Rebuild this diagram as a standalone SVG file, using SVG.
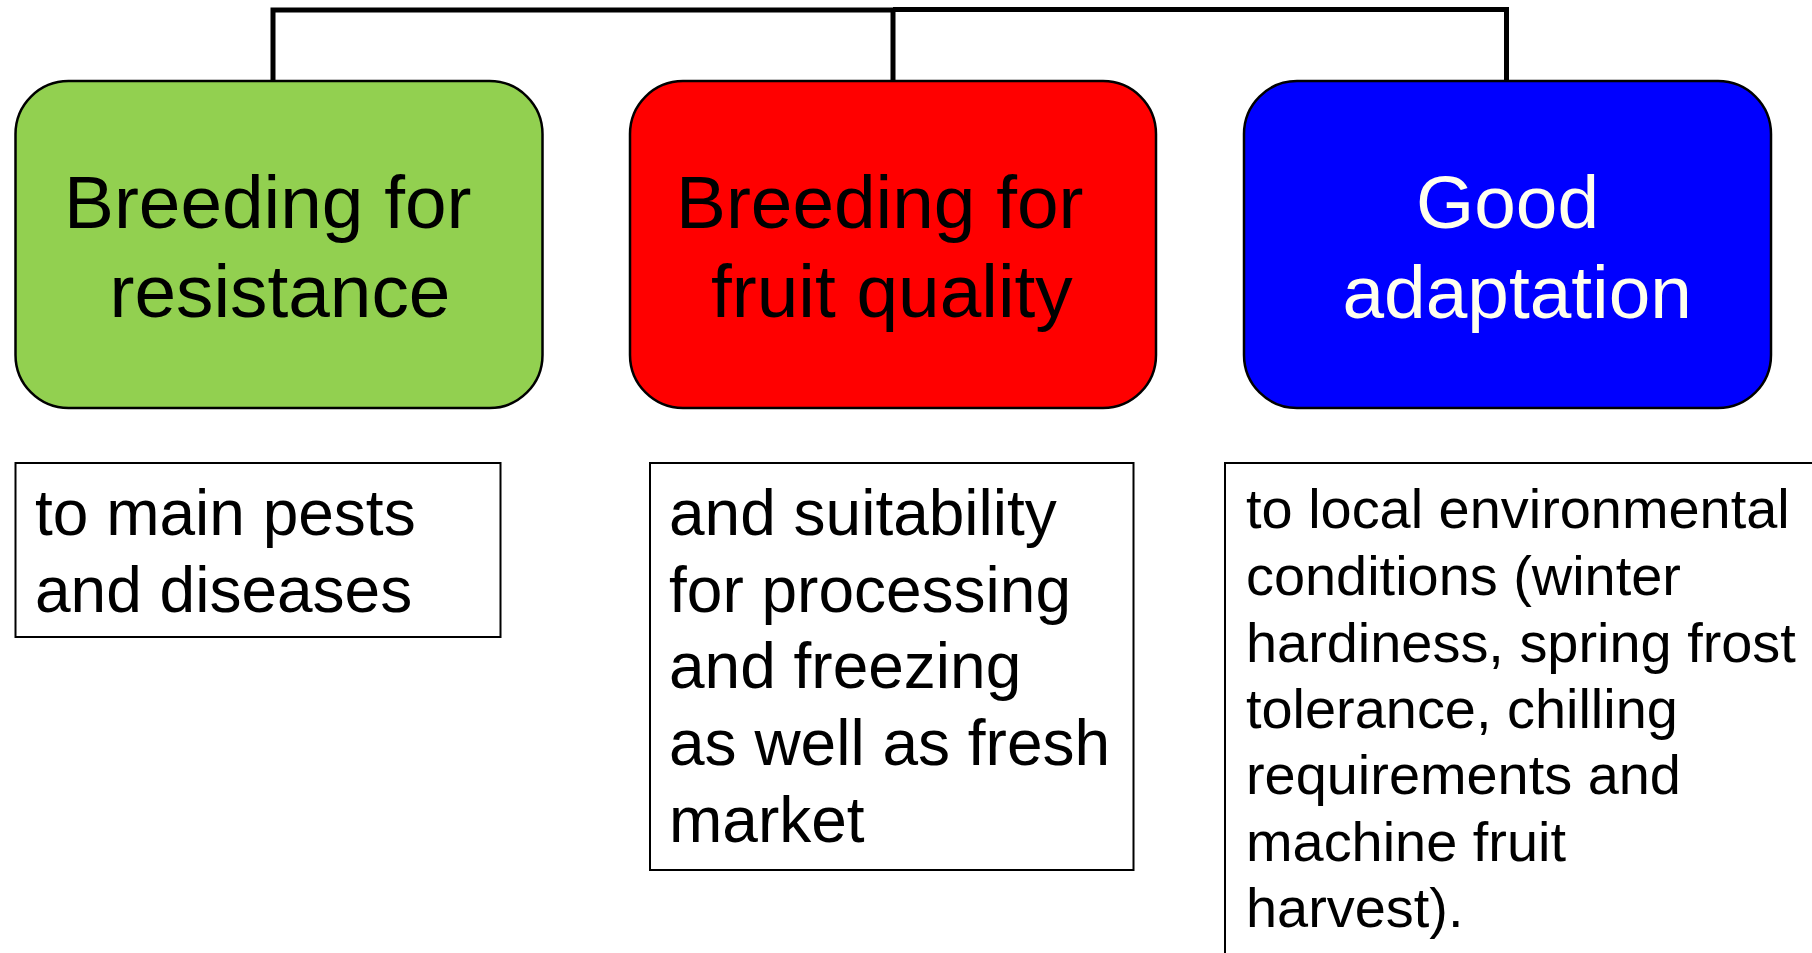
<svg xmlns="http://www.w3.org/2000/svg" width="1812" height="953" viewBox="0 0 1812 953">
  <style>
    .head { stroke: #000; stroke-width: 2.5; }
    .note { fill: #fff; stroke: #000; stroke-width: 2; }
    .link { fill: none; stroke: #000; stroke-width: 5; stroke-linejoin: miter; }
    text { font-family: "Liberation Sans", Arial, sans-serif; }
    .big { font-size: 74.8px; }
    .mid { font-size: 64px; fill: #000; }
    .small { font-size: 55.9px; fill: #000; }
  </style>

  <!-- bracket joining the three headings -->
  <g id="connectors">
    <path class="link" d="M273,81 V10 H893 V81"/>
    <path class="link" d="M893,9.5 H1506.5 V81"/>
  </g>

  <g id="resistance">
    <rect class="head" x="15.5" y="81" width="527" height="327" rx="53" ry="53" fill="#92D050"/>
    <text class="big" fill="#000"><tspan x="64" y="228">Breeding for</tspan><tspan x="109.5" y="317">resistance</tspan></text>
  </g>

  <g id="fruit-quality">
    <rect class="head" x="630" y="81" width="526" height="327" rx="53" ry="53" fill="#FF0000"/>
    <text class="big" fill="#000"><tspan x="676" y="228">Breeding for</tspan><tspan x="711" y="317">fruit quality</tspan></text>
  </g>

  <g id="adaptation">
    <rect class="head" x="1244" y="81" width="527" height="327" rx="53" ry="53" fill="#0000FF"/>
    <text class="big" fill="#FFFFEE"><tspan x="1416" y="228">Good</tspan><tspan x="1342.5" y="318">adaptation</tspan></text>
  </g>

  <g id="resistance-note">
    <rect class="note" x="15.5" y="463" width="485" height="174"/>
    <text class="mid"><tspan x="35" y="535">to main pests</tspan><tspan x="35" y="612">and diseases</tspan></text>
  </g>

  <g id="fruit-quality-note">
    <rect class="note" x="650" y="463" width="483.5" height="407"/>
    <text class="mid">
      <tspan x="669" y="535">and suitability</tspan>
      <tspan x="669" y="611.5">for processing</tspan>
      <tspan x="669" y="688">and freezing</tspan>
      <tspan x="669" y="765">as well as fresh</tspan>
      <tspan x="669" y="842">market</tspan>
    </text>
  </g>

  <g id="adaptation-note">
    <rect class="note" x="1225" y="463" width="600" height="500"/>
    <text class="small">
      <tspan x="1246" y="528">to local environmental</tspan>
      <tspan x="1246" y="595">conditions (winter</tspan>
      <tspan x="1246" y="661.5">hardiness, spring frost</tspan>
      <tspan x="1246" y="728">tolerance, chilling</tspan>
      <tspan x="1246" y="794">requirements and</tspan>
      <tspan x="1246" y="860.5">machine fruit</tspan>
      <tspan x="1246" y="927">harvest).</tspan>
    </text>
  </g>
</svg>
